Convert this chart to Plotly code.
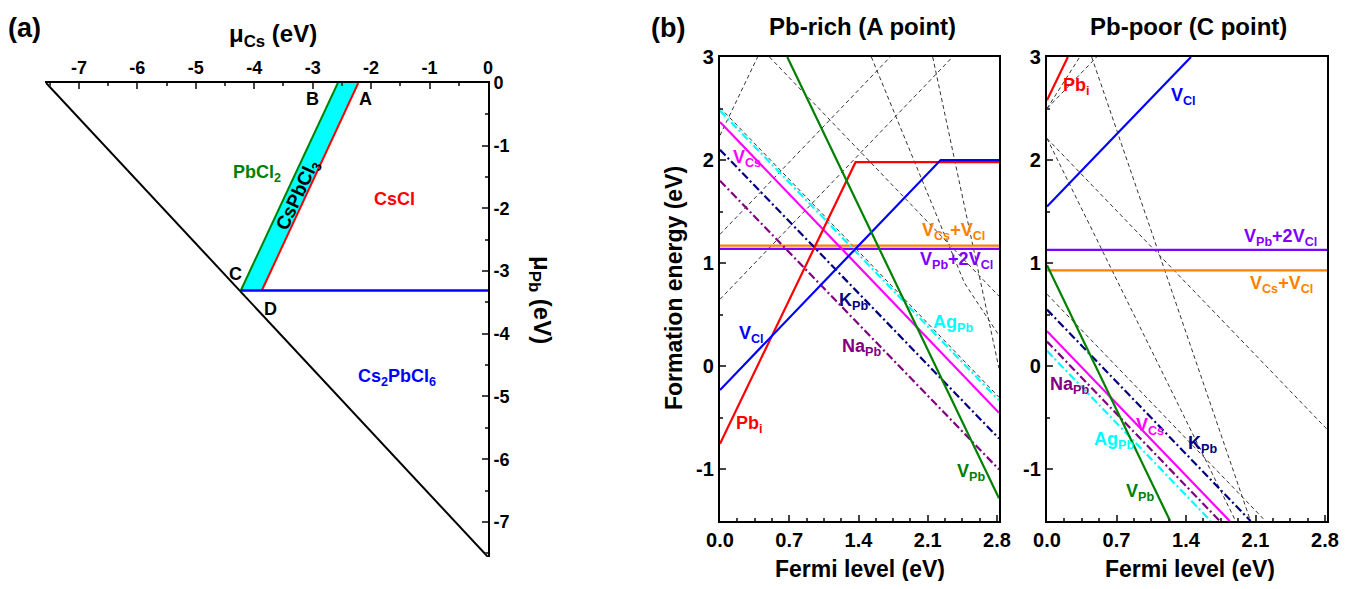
import plotly.graph_objects as go

PAGE_W, PAGE_H = 1355, 589
OFF = 8  # default body margin of the html page
W, H = PAGE_W - 2 * OFF, PAGE_H - 2 * OFF
FONT = "Liberation Sans, Arial, sans-serif"

# ---------------- Panel (a): chemical potential diagram ----------------
mu_cs_ticks = [-7, -6, -5, -4, -3, -2, -1, 0]
mu_pb_ticks = [0, -1, -2, -3, -4, -5, -6, -7]
hyp_cs = [-7.56, 0.0]
hyp_pb = [0.0, -7.56]
pbcl2_cs = [-2.57, -4.23]
pbcl2_pb = [0.0, -3.31]
cscl_cs = [-2.22, -3.87]
cscl_pb = [0.0, -3.31]
cs2_cs = [-4.23, 0.0]
cs2_pb = [-3.31, -3.31]
stable_cs = [-2.57, -2.22, -3.87, -4.23, -2.57]
stable_pb = [0.0, 0.0, -3.31, -3.31, 0.0]

# ---------------- Panel (b): formation energies ----------------
# Pb-rich (A point)
VPb_r_x, VPb_r_y = [0.68, 2.82], [3.0, -1.28]
Pbi_r_x, Pbi_r_y = [0.0, 1.37, 2.82], [-0.75, 1.98, 1.98]
VCl_r_x, VCl_r_y = [0.0, 2.23, 2.82], [-0.23, 2.0, 2.0]
VCs_r_x, VCs_r_y = [0.0, 2.82], [2.37, -0.45]
AgPb_r_x, AgPb_r_y = [0.0, 2.82], [2.48, -0.33]
KPb_r_x, KPb_r_y = [0.0, 2.82], [2.10, -0.70]
NaPb_r_x, NaPb_r_y = [0.0, 2.82], [1.80, -1.00]
VCsVCl_r_x, VCsVCl_r_y = [0.0, 2.82], [1.17, 1.17]
VPb2VCl_r_x, VPb2VCl_r_y = [0.0, 2.82], [1.14, 1.14]
other_r = [
    ([0.0, 0.38], [2.24, 3.0]),
    ([0.0, 2.35], [0.65, 3.0]),
    ([0.0, 1.72], [1.28, 3.0]),
    ([0.5, 2.82], [3.0, 0.68]),
    ([1.53, 2.47, 2.82], [3.0, 0.81, 0.30]),
    ([2.15, 2.82], [3.0, -0.02]),
    ([0.0, 2.82], [2.51, -0.30]),
]

# Pb-poor (C point)
Pbi_p_x, Pbi_p_y = [0.0, 0.21], [2.58, 3.0]
VCl_p_x, VCl_p_y = [0.0, 1.45], [1.55, 3.0]
VPb2VCl_p_x, VPb2VCl_p_y = [0.0, 2.82], [1.13, 1.13]
VCsVCl_p_x, VCsVCl_p_y = [0.0, 2.82], [0.93, 0.93]
VPb_p_x, VPb_p_y = [0.0, 1.24], [0.98, -1.5]
VCs_p_x, VCs_p_y = [0.0, 1.84], [0.34, -1.5]
KPb_p_x, KPb_p_y = [0.0, 2.05], [0.55, -1.5]
NaPb_p_x, NaPb_p_y = [0.0, 1.74], [0.24, -1.5]
AgPb_p_x, AgPb_p_y = [0.0, 1.65], [0.15, -1.5]
other_p = [
    ([0.0, 0.50], [2.50, 3.0]),
    ([0.0, 0.33], [2.50, 3.0]),
    ([0.0, 2.82], [2.21, -0.61]),
    ([0.0, 1.90], [2.21, -1.5]),
    ([0.45, 2.05], [3.0, -1.5]),
    ([0.0, 2.2], [0.70, -1.5]),
]

fermi_ticks = [0.0, 0.7, 1.4, 2.1, 2.8]
fermi_ticktext = ["0.0", "0.7", "1.4", "2.1", "2.8"]
fe_ticks = [3, 2, 1, 0, -1]

def hyph(vals):
    return [str(v).replace("\u2212", "-") for v in vals]

RED, GREEN, BLUE = "#FF0000", "#008000", "#0000FF"
MAG, CYAN, NAVY = "#FF00FF", "#00FFFF", "#000080"
PURP, ORANGE, VIOL = "#800080", "#FF8000", "#8000FF"

fig = go.Figure()

# panel a traces
fig.add_trace(go.Scatter(x=stable_cs, y=stable_pb, fill="toself", fillcolor=CYAN,
                         line=dict(width=0), mode="lines", xaxis="x", yaxis="y", hoverinfo="skip"))
fig.add_trace(go.Scatter(x=hyp_cs, y=hyp_pb, mode="lines", line=dict(color="black", width=2), xaxis="x", yaxis="y"))
fig.add_trace(go.Scatter(x=pbcl2_cs, y=pbcl2_pb, mode="lines", line=dict(color=GREEN, width=2), xaxis="x", yaxis="y"))
fig.add_trace(go.Scatter(x=cscl_cs, y=cscl_pb, mode="lines", line=dict(color=RED, width=2), xaxis="x", yaxis="y"))
fig.add_trace(go.Scatter(x=cs2_cs, y=cs2_pb, mode="lines", line=dict(color=BLUE, width=2.5), xaxis="x", yaxis="y"))

def add_line(x, y, color, ax, dash="solid", width=2.2):
    fig.add_trace(go.Scatter(x=x, y=y, mode="lines", line=dict(color=color, width=width, dash=dash),
                             xaxis="x" + ax, yaxis="y" + ax, hoverinfo="skip"))

for xs, ys in other_r:
    add_line(xs, ys, "#333333", "2", dash="4px,3px", width=1)
for xs, ys in other_p:
    add_line(xs, ys, "#333333", "3", dash="4px,3px", width=1)

DD = "8px,3px,2px,3px"
# rich
add_line(VCsVCl_r_x, VCsVCl_r_y, ORANGE, "2")
add_line(VPb2VCl_r_x, VPb2VCl_r_y, VIOL, "2")
add_line(NaPb_r_x, NaPb_r_y, PURP, "2", dash=DD)
add_line(KPb_r_x, KPb_r_y, NAVY, "2", dash=DD)
add_line(AgPb_r_x, AgPb_r_y, CYAN, "2", dash=DD)
add_line(VCs_r_x, VCs_r_y, MAG, "2")
add_line(Pbi_r_x, Pbi_r_y, RED, "2")
add_line(VCl_r_x, VCl_r_y, BLUE, "2")
add_line(VPb_r_x, VPb_r_y, GREEN, "2")
# poor
add_line(VCsVCl_p_x, VCsVCl_p_y, ORANGE, "3")
add_line(VPb2VCl_p_x, VPb2VCl_p_y, VIOL, "3")
add_line(AgPb_p_x, AgPb_p_y, CYAN, "3", dash=DD)
add_line(NaPb_p_x, NaPb_p_y, PURP, "3", dash=DD)
add_line(KPb_p_x, KPb_p_y, NAVY, "3", dash=DD)
add_line(VCs_p_x, VCs_p_y, MAG, "3")
add_line(Pbi_p_x, Pbi_p_y, RED, "3")
add_line(VCl_p_x, VCl_p_y, BLUE, "3")
add_line(VPb_p_x, VPb_p_y, GREEN, "3")

def px2x(px):
    return (px - OFF) / W

def py2y(py):
    return 1 - (py - OFF) / H

tickfont = dict(family=FONT, size=20, color="black", weight="bold")
tickfont_a = dict(family=FONT, size=18, color="black", weight="bold")

fermi_axis = dict(range=[0, 2.82], tickvals=fermi_ticks, ticktext=fermi_ticktext, automargin=False,
                  ticks="inside", ticklen=6, tickwidth=2, showline=True, linewidth=2.2, linecolor="black",
                  mirror=True, showgrid=False, zeroline=False, tickfont=tickfont,
                  minor=dict(ticks="inside", ticklen=3, tickwidth=1.5, dtick=0.175, tick0=0, showgrid=False))
fe_axis = dict(range=[-1.5, 3], tickvals=fe_ticks, ticktext=hyph(fe_ticks), ticks="inside", ticklen=6,
               tickwidth=2, showline=True,
               linewidth=2.2, linecolor="black", mirror=True, showgrid=False, zeroline=False, tickfont=tickfont,
               automargin=False,
               minor=dict(ticks="inside", ticklen=3, tickwidth=1.5, dtick=0.5, tick0=0, showgrid=False))

fig.update_layout(
    width=W, height=H, margin=dict(l=0, r=0, t=0, b=0, autoexpand=False),
    paper_bgcolor="white", plot_bgcolor="white", showlegend=False,
    font=dict(family=FONT, color="black"),
    xaxis=dict(domain=[px2x(45), px2x(488)], range=[-7.58, 0], side="top", anchor="y", automargin=False,
               tickvals=mu_cs_ticks, ticktext=hyph(mu_cs_ticks), ticks="inside", ticklen=6, tickwidth=2,
               showline=True, linewidth=2,
               linecolor="black", showgrid=False, zeroline=False, tickfont=tickfont_a,
               minor=dict(ticks="inside", ticklen=3, tickwidth=1.5, dtick=0.5, tick0=0, showgrid=False)),
    yaxis=dict(domain=[py2y(557), py2y(83)], range=[-7.56, 0], side="right", anchor="x", automargin=False,
               tickvals=mu_pb_ticks, ticktext=hyph(mu_pb_ticks), ticks="inside", ticklen=6, tickwidth=2,
               showline=True, linewidth=2,
               linecolor="black", showgrid=False, zeroline=False, tickfont=tickfont_a,
               minor=dict(ticks="inside", ticklen=3, tickwidth=1.5, dtick=0.5, tick0=0, showgrid=False)),
    xaxis2=dict(domain=[px2x(720), px2x(999)], anchor="y2", **fermi_axis),
    yaxis2=dict(domain=[py2y(521), py2y(57)], anchor="x2", **fe_axis),
    xaxis3=dict(domain=[px2x(1047), px2x(1327)], anchor="y3", **fermi_axis),
    yaxis3=dict(domain=[py2y(521), py2y(57)], anchor="x3", **fe_axis),
)

ann = []

def lab(text, x, y, color, ax, size=18, angle=0):
    ann.append(dict(text="<b>" + text + "</b>", x=x, y=y, xref="x" + ax, yref="y" + ax,
                    xanchor="center", yanchor="middle",
                    showarrow=False, font=dict(family=FONT, size=size, color=color), textangle=angle))

def plab(text, px, py, size=20, angle=0, color="black"):
    ann.append(dict(text="<b>" + text + "</b>", x=px2x(px), y=py2y(py), xref="paper", yref="paper",
                    xanchor="center", yanchor="middle",
                    showarrow=False, font=dict(family=FONT, size=size, color=color), textangle=angle))

def laba(text, x, y, color, size=18, angle=0):
    ann.append(dict(text="<b>" + text + "</b>", x=x, y=y, xref="x", yref="y",
                    xanchor="center", yanchor="middle",
                    showarrow=False, font=dict(family=FONT, size=size, color=color), textangle=angle))

laba("B", -3.01, -0.26, "black")
laba("A", -2.09, -0.26, "black")
laba("C", -4.32, -3.05, "black")
laba("D", -3.73, -3.60, "black")
laba("PbCl<sub>2</sub>", -3.96, -1.45, GREEN)
laba("CsCl", -1.60, -1.85, RED)
laba("Cs<sub>2</sub>PbCl<sub>6</sub>", -1.56, -4.70, BLUE)
laba("CsPbCl<sub>3</sub>", -3.25, -1.80, "black", size=19, angle=-65)

LS = 18
# panel b labels (rich)
lab("V<sub>Cs</sub>", 0.27, 2.02, MAG, "2", size=LS)
lab("V<sub>Cs</sub>+V<sub>Cl</sub>", 2.36, 1.31, ORANGE, "2", size=LS)
lab("V<sub>Pb</sub>+2V<sub>Cl</sub>", 2.39, 1.03, VIOL, "2", size=LS)
lab("K<sub>Pb</sub>", 1.35, 0.63, NAVY, "2", size=LS)
lab("Ag<sub>Pb</sub>", 2.36, 0.42, CYAN, "2", size=LS)
lab("V<sub>Cl</sub>", 0.32, 0.31, BLUE, "2", size=LS)
lab("Na<sub>Pb</sub>", 1.43, 0.18, PURP, "2", size=LS)
lab("Pb<sub>i</sub>", 0.30, -0.56, RED, "2", size=LS)
lab("V<sub>Pb</sub>", 2.54, -1.03, GREEN, "2", size=LS)
# panel b labels (poor)
lab("Pb<sub>i</sub>", 0.30, 2.71, RED, "3", size=LS)
lab("V<sub>Cl</sub>", 1.37, 2.62, BLUE, "3", size=LS)
lab("V<sub>Pb</sub>+2V<sub>Cl</sub>", 2.35, 1.25, VIOL, "3", size=LS)
lab("V<sub>Cs</sub>+V<sub>Cl</sub>", 2.36, 0.79, ORANGE, "3", size=LS)
lab("Na<sub>Pb</sub>", 0.23, -0.19, PURP, "3", size=LS)
lab("V<sub>Cs</sub>", 1.04, -0.58, MAG, "3", size=LS)
lab("Ag<sub>Pb</sub>", 0.67, -0.72, CYAN, "3", size=LS)
lab("K<sub>Pb</sub>", 1.57, -0.76, NAVY, "3", size=LS)
lab("V<sub>Pb</sub>", 0.94, -1.22, GREEN, "3", size=LS)

# titles
plab("(a)", 24, 28, size=27)
plab("μ<sub>Cs</sub> (eV)", 273, 36, size=24)
plab("μ<sub>Pb</sub> (eV)", 541, 300, size=24, angle=90)
plab("(b)", 668, 28, size=27)
plab("Pb-rich (A point)", 862, 26, size=24)
plab("Pb-poor (C point)", 1188, 26, size=24)
plab("Formation energy (eV)", 674, 288, size=23, angle=-90)
plab("Fermi level (eV)", 860, 569, size=23)
plab("Fermi level (eV)", 1190, 569, size=23)

fig.update_layout(annotations=ann)
fig.write_html("out.html")
